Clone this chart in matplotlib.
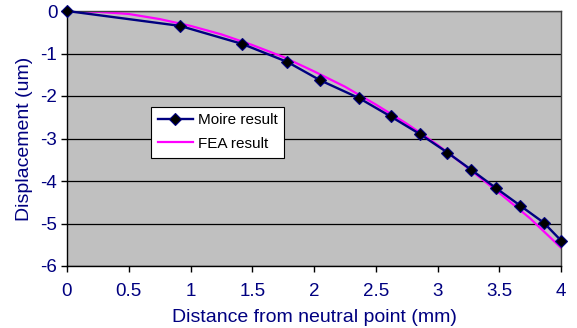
import matplotlib
matplotlib.use("Agg")
import matplotlib.pyplot as plt

plt.rcParams['font.family'] = ['Liberation Sans', 'DejaVu Sans']

# Moire measurement (distance in mm, displacement in um)
moire_x = [0.0, 0.915, 1.42, 1.785, 2.05, 2.365, 2.62, 2.86, 3.08, 3.27, 3.475, 3.67, 3.86, 4.0]
moire_y = [0.0, -0.35, -0.776, -1.2, -1.63, -2.05, -2.48, -2.90, -3.33, -3.73, -4.17, -4.58, -4.98, -5.40]

# FEA prediction
fea_x = [0.0, 0.25, 0.5, 0.75, 1.0, 1.25, 1.5, 1.75, 2.0, 2.25, 2.5, 2.75, 3.0, 3.25, 3.5, 3.75, 4.0]
fea_y = [0.0, -0.02, -0.07, -0.19, -0.35, -0.55, -0.8, -1.08, -1.42, -1.78, -2.2, -2.65, -3.15, -3.7, -4.28, -4.88, -5.57]

x_ticks = [0, 0.5, 1, 1.5, 2, 2.5, 3, 3.5, 4]
x_tick_labels = ['0', '0.5', '1', '1.5', '2', '2.5', '3', '3.5', '4']
y_ticks = [0, -1, -2, -3, -4, -5, -6]
y_tick_labels = ['0', '-1', '-2', '-3', '-4', '-5', '-6']

navy = '#000080'

fig = plt.figure(figsize=(5.77, 3.28), dpi=100)
ax = fig.add_axes([67 / 577, 1 - 266 / 328, (561 - 67) / 577, (266 - 11) / 328])
ax.set_facecolor('#C0C0C0')

ax.plot(moire_x, moire_y, color=navy, lw=1.7, marker='D', markersize=6.5,
        markerfacecolor='black', markeredgecolor=navy, markeredgewidth=0.8,
        label='Moire result', zorder=3, clip_on=False)
ax.plot(fea_x, fea_y, color='#FF00FF', lw=1.6, label='FEA result', zorder=2)

ax.set_xlim(0, 4)
ax.set_ylim(-6, 0)
ax.set_xticks(x_ticks)
ax.set_xticklabels(x_tick_labels)
ax.set_yticks(y_ticks)
ax.set_yticklabels(y_tick_labels)
ax.yaxis.grid(True, color='black', lw=0.9)
ax.set_axisbelow(True)

for side in ['top', 'right']:
    ax.spines[side].set_color('#404040')
    ax.spines[side].set_linewidth(1.0)
for side in ['left', 'bottom']:
    ax.spines[side].set_color('black')
    ax.spines[side].set_linewidth(1.0)

ax.tick_params(axis='both', direction='out', length=4, width=1, colors='black',
               labelcolor=navy, labelsize=13.5)
ax.tick_params(axis='x', pad=8)
ax.tick_params(axis='y', pad=3)

ax.set_xlabel('Distance from neutral point (mm)', color=navy, fontsize=14, labelpad=7)
ax.set_ylabel('Displacement (um)', color=navy, fontsize=14, labelpad=5)

leg = ax.legend(loc='upper left', bbox_to_anchor=(0.17, 0.625), frameon=True,
                fancybox=False, framealpha=1, edgecolor='black', fontsize=11,
                handlelength=2.3, borderpad=0.45, labelspacing=0.6, handletextpad=0.3,
                borderaxespad=0)
leg.get_frame().set_linewidth(0.8)

fig.savefig('out.png', dpi=100)
